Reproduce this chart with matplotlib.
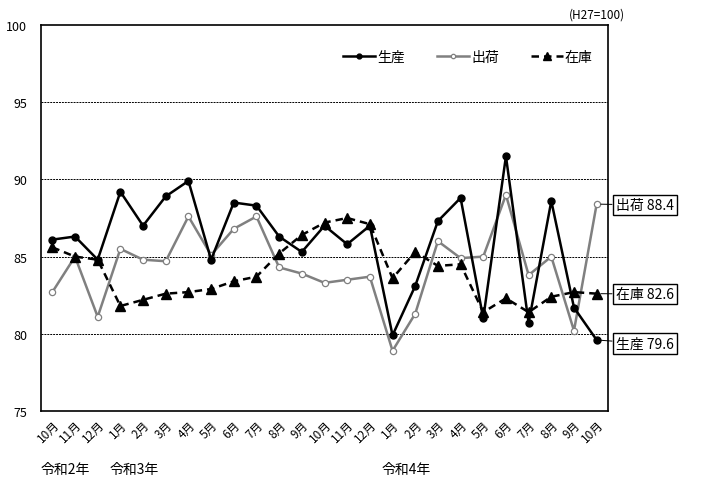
import matplotlib
matplotlib.use("Agg")
import matplotlib.pyplot as plt

plt.rcParams['font.family'] = ['Noto Sans CJK JP', 'DejaVu Sans']

months = ["10月", "11月", "12月", "1月", "2月", "3月", "4月", "5月", "6月", "7月", "8月", "9月",
          "10月", "11月", "12月", "1月", "2月", "3月", "4月", "5月", "6月", "7月", "8月", "9月", "10月"]
production = [86.1, 86.3, 84.8, 89.2, 87.0, 88.9, 89.9, 84.8, 88.5, 88.3, 86.3, 85.3,
              87.0, 85.8, 87.0, 79.9, 83.1, 87.3, 88.8, 81.0, 91.5, 80.7, 88.6, 81.7, 79.6]
shipments = [82.7, 85.0, 81.1, 85.5, 84.8, 84.7, 87.6, 85.1, 86.8, 87.6, 84.3, 83.9,
             83.3, 83.5, 83.7, 78.9, 81.3, 86.0, 84.9, 85.0, 89.0, 83.8, 85.0, 80.2, 88.4]
inventory = [85.6, 85.0, 84.8, 81.8, 82.2, 82.6, 82.7, 82.9, 83.4, 83.7, 85.2, 86.4,
             87.2, 87.5, 87.1, 83.6, 85.3, 84.4, 84.5, 81.4, 82.3, 81.4, 82.4, 82.7, 82.6]
series_names = ["生産", "出荷", "在庫"]
year_labels = [("令和2年", 0), ("令和3年", 3), ("令和4年", 15)]
yticks = [75, 80, 85, 90, 95, 100]

fig = plt.figure(figsize=(7.08, 4.85), dpi=100)
ax = fig.add_axes([41/708, 1-412/485, (608-41)/708, (412-26)/485])

x = list(range(len(months)))
ax.plot(x, shipments, color='#808080', lw=1.8, marker='o', ms=4.5,
        mfc='white', mec='#808080', mew=0.9, label=series_names[1], zorder=3)
ax.plot(x, production, color='black', lw=1.8, marker='o', ms=5,
        mfc='black', mec='black', label=series_names[0], zorder=4)
ax.plot(x, inventory, color='black', lw=1.8, ls=(0, (3, 2)), marker='^', ms=7.5,
        mfc='black', mec='black', label=series_names[2], zorder=5)

ax.set_xlim(-0.5, len(months) - 0.5)
ax.set_ylim(75, 100)
ax.set_yticks(yticks)
ax.set_yticklabels([str(v) for v in yticks], fontsize=9)
ax.set_xticks(x)
ax.set_xticklabels(months, rotation=45, ha='right', va='top',
                   rotation_mode='anchor', fontsize=8.5)
ax.tick_params(axis='both', length=0)
ax.tick_params(axis='y', pad=10)
ax.tick_params(axis='x', pad=5)
for v in [80, 85, 90, 95]:
    ax.axhline(v, color='black', lw=0.7, ls=(0, (2, 1)), zorder=1)
for s in ax.spines.values():
    s.set_linewidth(1.2)

handles, labels = ax.get_legend_handles_labels()
order = [1, 0, 2]
leg = ax.legend([handles[i] for i in order], [labels[i] for i in order],
                ncol=3, frameon=False, loc='center', bbox_to_anchor=(468/708, 1-58/485),
                bbox_transform=fig.transFigure, fontsize=10, handlelength=2.3,
                columnspacing=2.3, handletextpad=0.15, markerscale=0.7)

fig.text(597/708, 1-15/485, "(H27=100)", fontsize=8.5, ha='center', va='center')

# end labels
ends = [(shipments[-1], series_names[1], 206), (inventory[-1], series_names[2], 295),
        (production[-1], series_names[0], 344.5)]
for val, name, ypix in ends:
    ax.annotate(f"{name} {val}", xy=(x[-1], val), xycoords='data',
                xytext=(616/708, 1-ypix/485), textcoords='figure fraction',
                ha='left', va='center', fontsize=10,
                bbox=dict(boxstyle='square,pad=0.25', fc='white', ec='black', lw=1),
                arrowprops=dict(arrowstyle='-', color='black', lw=0.7,
                                shrinkA=0, shrinkB=3), annotation_clip=False)

for txt, idx in year_labels:
    fig.text((41 + idx*22.7)/708, 1-470/485, txt, fontsize=10, ha='left', va='center')

fig.savefig("out.png", dpi=100)
